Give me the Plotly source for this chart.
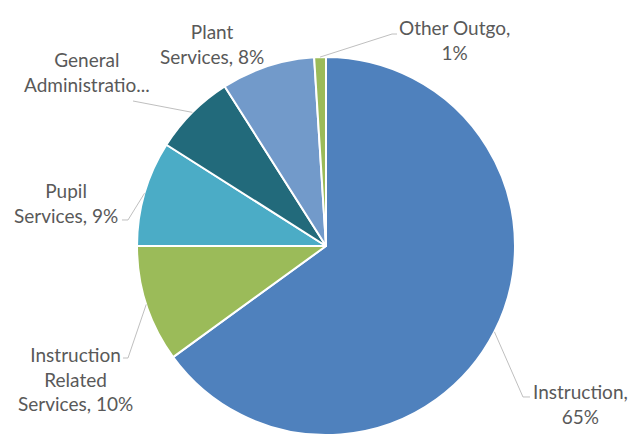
import math
import plotly.graph_objects as go

categories = ["Instruction", "Instruction Related Services", "Pupil Services",
              "General Administration", "Plant Services", "Other Outgo"]
values = [65, 10, 9, 7, 8, 1]
label_texts = ["Instruction,<br>65%", "Instruction<br>Related<br>Services, 10%",
               "Pupil<br>Services, 9%", "General<br>Administratio...",
               "Plant<br>Services, 8%", "Other Outgo,<br>1%"]
colors = ["#4F81BD", "#9BBB59", "#4BACC6", "#226A7B", "#729ACA", "#9BBB59"]

W, H = 642, 435
cx, cy, R = 326, 246, 189  # pie centre / radius in px

# label centres (px) and leader-line elbow points (px); None = no leader line
label_pos = [(580, 404), (75, 379), (66, 203), (87, 72), (212, 44), (454, 40)]
elbows = [[(523, 397), (530, 397)], [(128, 358), (123, 358)],
          [(128, 220), (122, 220)], [(133, 101)], None, [(392, 34), (397, 34)]]

fig = go.Figure(go.Pie(
    labels=categories, values=values, sort=False, direction="clockwise",
    rotation=0, marker=dict(colors=colors, line=dict(color="white", width=2)),
    textinfo="none", hoverinfo="label+percent", showlegend=False,
    domain=dict(x=[(cx - R) / W, (cx + R) / W], y=[0, 2 * R / H]),
))

def px2paper(p):
    return p[0] / W, 1 - p[1] / H

shapes = []
annotations = []
total = sum(values)
cum = 0
for i, v in enumerate(values):
    mid = (cum + v / 2) / total * 2 * math.pi
    cum += v
    edge = (cx + R * math.sin(mid), cy - R * math.cos(mid))
    if elbows[i]:
        pts = [px2paper(edge)] + [px2paper(p) for p in elbows[i]]
        path = "M " + " L ".join(f"{x:.4f},{y:.4f}" for x, y in pts)
        shapes.append(dict(type="path", path=path, xref="paper", yref="paper",
                           line=dict(color="#BFBFBF", width=1)))
    lx, ly = px2paper(label_pos[i])
    annotations.append(dict(x=lx, y=ly, xref="paper", yref="paper",
                            text=label_texts[i], showarrow=False,
                            xanchor="center", yanchor="middle", align="center",
                            font=dict(family="Lato", size=19, color="#595959")))

fig.update_layout(
    width=W, height=H, margin=dict(l=0, r=0, t=0, b=0),
    paper_bgcolor="white", plot_bgcolor="white",
    shapes=shapes, annotations=annotations,
)
fig.write_html("out.html")
